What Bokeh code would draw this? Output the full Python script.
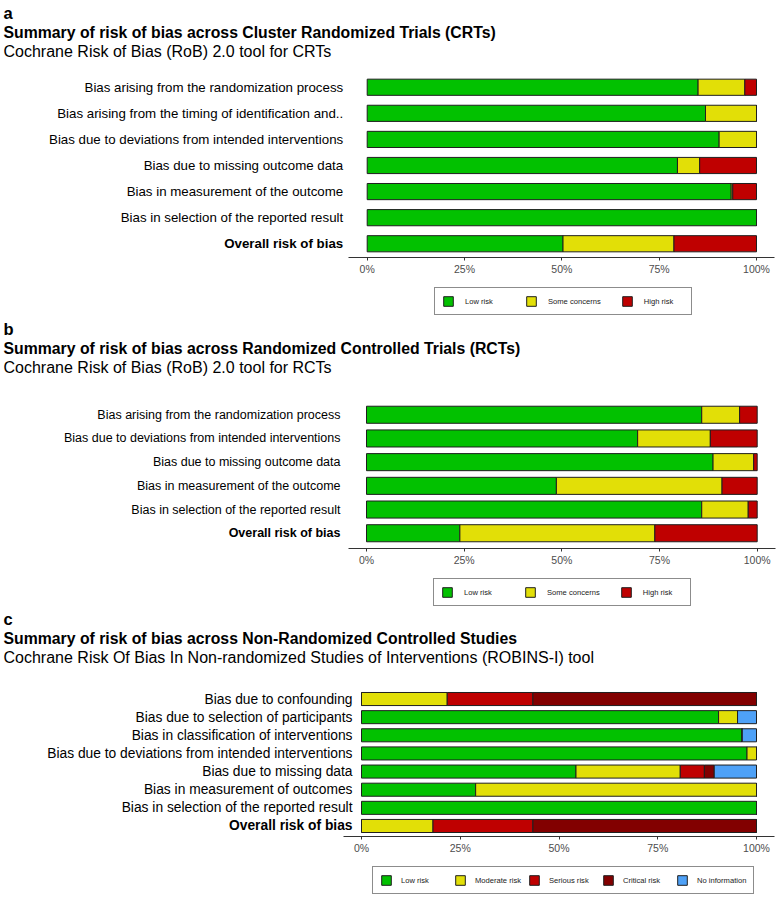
from bokeh.plotting import figure
from bokeh.models import (ColumnDataSource, Range1d, FixedTicker, Legend, LegendItem, Title)
from bokeh.core.properties import value
from bokeh.layouts import column
from bokeh.embed import file_html
from bokeh.resources import INLINE

FONT = "Liberation Sans"

# ---------------- data ----------------
a_domains = ["Bias arising from the randomization process",
             "Bias arising from the timing of identification and..",
             "Bias due to deviations from intended interventions",
             "Bias due to missing outcome data",
             "Bias in measurement of the outcome",
             "Bias in selection of the reported result",
             "Overall risk of bias"]
a_low = [85.0, 86.9, 90.4, 79.7, 93.5, 100.0, 50.3]
a_some = [12.0, 13.1, 9.6, 5.7, 0.4, 0.0, 28.5]
a_high = [3.0, 0.0, 0.0, 14.6, 6.1, 0.0, 21.2]

b_domains = ["Bias arising from the randomization process",
             "Bias due to deviations from intended interventions",
             "Bias due to missing outcome data",
             "Bias in measurement of the outcome",
             "Bias in selection of the reported result",
             "Overall risk of bias"]
b_low = [85.8, 69.4, 88.7, 48.6, 85.8, 23.9]
b_some = [9.7, 18.6, 10.4, 42.4, 11.9, 49.9]
b_high = [4.5, 12.0, 0.9, 9.0, 2.3, 26.2]

c_domains = ["Bias due to confounding",
             "Bias due to selection of participants",
             "Bias in classification of interventions",
             "Bias due to deviations from intended interventions",
             "Bias due to missing data",
             "Bias in measurement of outcomes",
             "Bias in selection of the reported result",
             "Overall risk of bias"]
c_low = [0.0, 90.4, 96.4, 97.6, 54.3, 28.9, 100.0, 0.0]
c_moderate = [21.7, 4.8, 0.0, 2.4, 26.4, 71.1, 0.0, 18.1]
c_serious = [21.7, 0.0, 0.0, 0.0, 6.1, 0.0, 0.0, 25.3]
c_critical = [56.6, 0.0, 0.0, 0.0, 2.5, 0.0, 0.0, 56.6]
c_noinfo = [0.0, 4.8, 3.6, 0.0, 10.7, 0.0, 0.0, 0.0]

rob2_labels = ["Low risk", "Some concerns", "High risk"]
robins_labels = ["Low risk", "Moderate risk", "Serious risk", "Critical risk", "No information"]
x_ticks = [0, 25, 50, 75, 100]
x_tick_labels = ["0%", "25%", "50%", "75%", "100%"]

GREEN, YELLOW, RED, DARKRED, BLUE = "#02C100", "#E2DF07", "#BF0000", "#820000", "#4EA1F7"
EDGE = "#1f1f1f"
FIG_W = 777


def make_panel(letter, title, subtitle, domains, series, labels, colors,
               zero_px, full_px, frame_h, pad, bar_h, label_size, label_gap,
               top_border, spacer_size,
               leg_x, leg_pad, leg_label_w, leg_spacing, leg_standoff):
    n = len(domains)
    keys = ["s%d" % i for i in range(len(series))]
    data = {"row": list(range(n)), "domain": list(domains),
            "style": ["normal"] * (n - 1) + ["bold"]}
    for k, v in zip(keys, series):
        data[k] = v
    src = ColumnDataSource(data)

    ppu = (full_px - zero_px) / 100.0          # pixels per percent
    x0 = -zero_px / ppu
    x1 = x0 + FIG_W / ppu

    p = figure(frame_width=FIG_W, frame_height=frame_h, output_backend="svg",
               toolbar_location=None,
               x_range=Range1d(x0, x1), y_range=Range1d(n - 1 + pad, -pad),
               y_axis_location=None,
               min_border_left=0, min_border_right=0,
               min_border_top=top_border, min_border_bottom=18)
    p.outline_line_color = None
    p.xgrid.visible = False
    p.ygrid.visible = False

    p.hbar_stack(keys, y="row", height=bar_h, source=src,
                 fill_color=colors, line_color=EDGE, line_width=1)

    # category labels (left of bars)
    p.text(x=0, y="row", text="domain", source=src, x_offset=-label_gap,
           text_align="right", text_baseline="middle",
           text_font=value(FONT), text_font_size=value(label_size),
           text_font_style="style", text_color="black")

    # x axis
    xa = p.xaxis[0]
    xa.ticker = FixedTicker(ticks=x_ticks)
    xa.major_label_overrides = {t: l for t, l in zip(x_ticks, x_tick_labels)}
    xa.bounds = (-18.5 / ppu, 100 + 18.0 / ppu)
    xa.axis_line_color = "#333333"
    xa.major_tick_line_color = "#333333"
    xa.major_tick_out = 3
    xa.major_tick_in = 0
    xa.minor_tick_line_color = None
    xa.major_label_text_color = "#4d4d4d"
    xa.major_label_text_font = FONT
    xa.major_label_text_font_size = "10.5px"
    xa.major_label_standoff = 2

    # titles (the first one added sits closest to the plot)
    p.add_layout(Title(text=" ", align="left", offset=3, text_font=FONT,
                       text_font_size="%.1fpx" % spacer_size, standoff=0), "above")
    p.add_layout(Title(text=subtitle, align="left", offset=3, text_font=FONT,
                       text_font_size="16px", text_font_style="normal",
                       text_color="black", standoff=0), "above")
    p.add_layout(Title(text=title, align="left", offset=3, text_font=FONT,
                       text_font_size="15.8px", text_font_style="bold",
                       text_color="black", standoff=0), "above")
    p.add_layout(Title(text=letter, align="left", offset=3, text_font=FONT,
                       text_font_size="16.5px", text_font_style="bold",
                       text_color="black", standoff=0), "above")

    # legend strip below the panel (legend keys come from hidden copies of the bars)
    lf = figure(frame_width=FIG_W, frame_height=38, output_backend="svg",
                toolbar_location=None, x_range=Range1d(0, 1), y_range=Range1d(0, 1),
                x_axis_location=None, y_axis_location=None,
                min_border_left=0, min_border_right=0, min_border_top=0, min_border_bottom=0)
    lf.outline_line_color = None
    lf.xgrid.visible = False
    lf.ygrid.visible = False
    proxies = lf.hbar_stack(keys, y="row", height=bar_h, source=src,
                            fill_color=colors, line_color=EDGE, line_width=1)
    for r in proxies:
        r.visible = False
    legend = Legend(items=[LegendItem(label=l, renderers=[r]) for l, r in zip(labels, proxies)],
                    orientation="horizontal", location=(leg_x, 0))
    legend.click_policy = "none"
    legend.label_text_font = FONT
    legend.label_text_font_size = "7.6px"
    legend.label_text_color = "#1a1a1a"
    legend.glyph_width = 12
    legend.glyph_height = 12
    legend.label_height = 12
    legend.label_width = leg_label_w
    legend.label_standoff = leg_standoff
    legend.spacing = leg_spacing
    legend.padding = leg_pad
    legend.margin = 0
    legend.border_line_color = "#1a1a1a"
    legend.border_line_width = 1
    legend.background_fill_color = "white"
    lf.add_layout(legend, "center")
    return p, lf


pa, la = make_panel("a", "Summary of risk of bias across Cluster Randomized Trials (CRTs)",
                    "Cochrane Risk of Bias (RoB) 2.0 tool for CRTs",
                    a_domains, [a_low, a_some, a_high], rob2_labels, [GREEN, YELLOW, RED],
                    zero_px=366.7, full_px=756.0, frame_h=184, pad=0.527, bar_h=0.62,
                    label_size="13.3px", label_gap=24, top_border=73, spacer_size=11.2,
                    leg_x=434, leg_pad=7, leg_label_w=40, leg_spacing=20, leg_standoff=11)
pb, lb = make_panel("b", "Summary of risk of bias across Randomized Controlled Trials (RCTs)",
                    "Cochrane Risk of Bias (RoB) 2.0 tool for RCTs",
                    b_domains, [b_low, b_some, b_high], rob2_labels, [GREEN, YELLOW, RED],
                    zero_px=366.0, full_px=756.7, frame_h=149, pad=0.644, bar_h=0.72,
                    label_size="12.5px", label_gap=26, top_border=84, spacer_size=20.0,
                    leg_x=433, leg_pad=7, leg_label_w=40, leg_spacing=20, leg_standoff=11)
pc, lc = make_panel("c", "Summary of risk of bias across Non-Randomized Controlled Studies",
                    "Cochrane Risk Of Bias In Non-randomized Studies of Interventions (ROBINS-I) tool",
                    c_domains, [c_low, c_moderate, c_serious, c_critical, c_noinfo], robins_labels,
                    [GREEN, YELLOW, RED, DARKRED, BLUE],
                    zero_px=361.0, full_px=756.0, frame_h=148, pad=0.58, bar_h=0.72,
                    label_size="13.8px", label_gap=9, top_border=82, spacer_size=19.0,
                    leg_x=372, leg_pad=7, leg_label_w=46, leg_spacing=7, leg_standoff=9)

layout = column(pa, la, pb, lb, pc, lc)
open("out.html", "w").write(file_html(layout, INLINE))
